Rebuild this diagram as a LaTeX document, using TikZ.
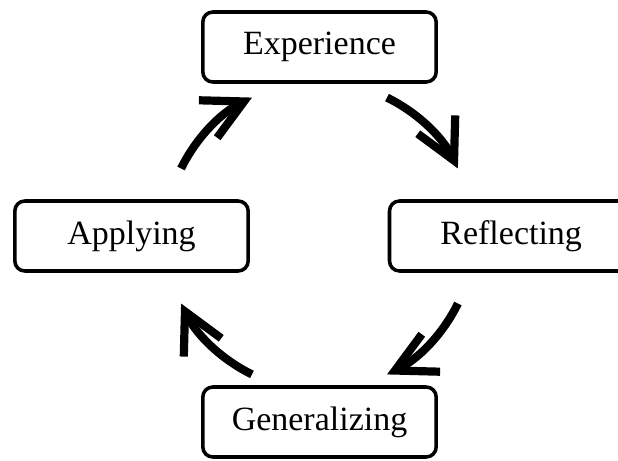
\documentclass[tikz,border=0pt]{standalone}
\usepackage{fontspec}
\setmainfont{Liberation Serif}
\usetikzlibrary{arrows.meta}
\tikzset{
  stage/.style={draw, line width=3pt, rounded corners=0.3cm, minimum width=7.0cm,
    minimum height=2.1cm, font=\fontsize{29}{34}\selectfont},
  cyc/.style={line width=7pt, -{Straight Barb[length=1.2cm,width=1.25cm]}}
}
\begin{document}
\begin{tikzpicture}
  \useasboundingbox (-9.585,-6.72) rectangle (8.955,7.08);
  \node[stage] (exp) at (0,5.67) {Experience};
  \node[stage,minimum width=7.3cm] (refl) at (5.75,0) {Reflecting};
  \node[stage] (gen) at (0,-5.58) {Generalizing};
  \node[stage] (app) at (-5.64,0) {Applying};
  % four arcs of the cycle
  \foreach \s/\n in {154/a, 64/b, -26/c, -116/d}{
    \coordinate (\n) at (\s:4.62);
    \draw[cyc] (\n) arc[start angle=\s, end angle=\s-38, radius=4.62];
  }
\end{tikzpicture}
\end{document}
